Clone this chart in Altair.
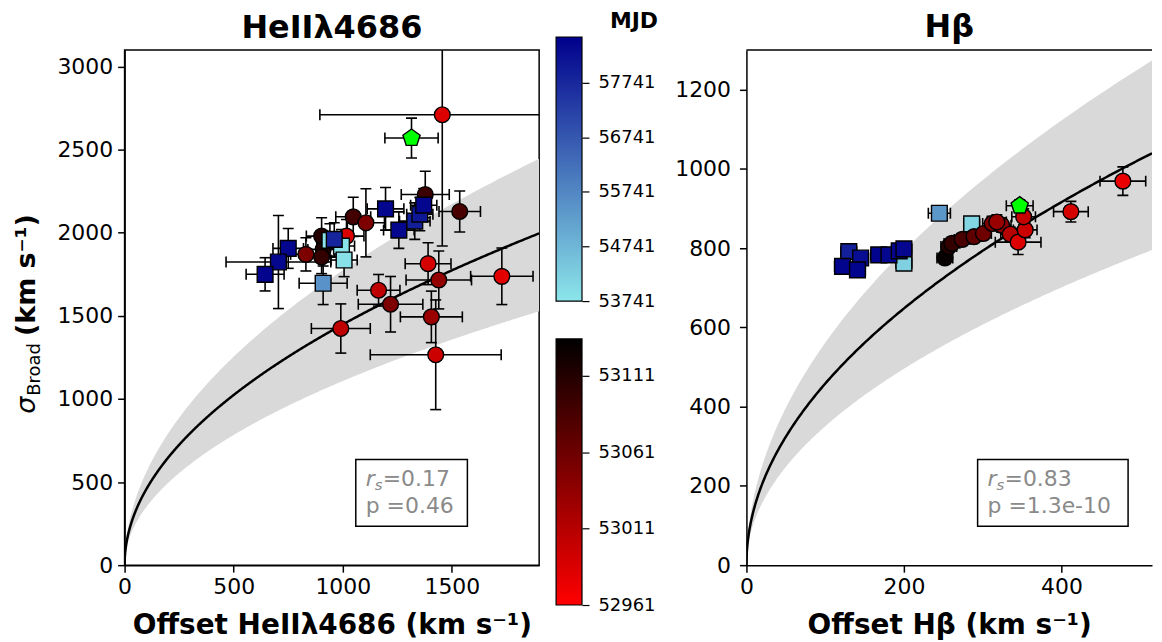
import altair as alt
import numpy as np
import pandas as pd

FONT = "DejaVu Sans"

# ---------------- HeII 4686 panel data ----------------
HE_C_X    = [1456, 1536, 1378, 1048, 1106, 1017, 903, 910, 903, 831, 1391, 1440, 1729, 1164, 1219, 1406, 991, 1426]
HE_C_Y    = [2710, 2128, 2230, 2096, 2060, 1980, 1980, 1900, 1854, 1870, 1814, 1716, 1738, 1654, 1570, 1494, 1424, 1266]
HE_C_XERR = [561, 95, 110, 80, 85, 80, 70, 70, 70, 70, 105, 150, 143, 98, 148, 142, 135, 300]
HE_C_YERR = [790, 123, 140, 118, 205, 100, 110, 100, 100, 100, 126, 174, 170, 95, 167, 155, 148, 330]
HE_C_MJD  = [52985, 53085, 53095, 53090, 53050, 52985, 53110, 53115, 53100, 53050, 52990, 53035, 52980, 53005, 53050, 53030, 53005, 52995]

HE_S_X    = [1196, 1257, 1330, 1353, 1371, 941, 994, 1006, 961, 750, 705, 644, 910]
HE_S_Y    = [2144, 2016, 2070, 2112, 2166, 1954, 1920, 1836, 1960, 1906, 1824, 1750, 1696]
HE_S_XERR = [84, 70, 70, 60, 60, 60, 60, 60, 60, 70, 240, 87, 110]
HE_S_YERR = [128, 110, 110, 100, 100, 100, 100, 100, 100, 120, 280, 100, 128]
HE_S_MJD  = [58450, 58450, 57900, 58100, 58450, 53800, 53800, 53850, 57800, 58450, 58400, 58500, 55500]

HE_P_X, HE_P_Y, HE_P_XERR, HE_P_YERR = [1315], [2570], [122], [120]

HE_XTICKS = [0, 500, 1000, 1500]
HE_YTICKS = [0, 500, 1000, 1500, 2000, 2500, 3000]
HE_XMAX, HE_YMAX = 1900, 3100
HE_STATS = ["=0.17", "p =0.46"]

# ---------------- H beta panel data ----------------
HB_C_X    = [252, 257, 261, 274, 289, 301, 312, 324, 318, 335, 345, 354, 352, 412, 478]
HB_C_Y    = [775, 804, 812, 822, 829, 837, 862, 858, 866, 835, 815, 846, 879, 892, 969]
HB_C_XERR = [10, 10, 10, 10, 10, 10, 12, 12, 12, 12, 29, 15, 15, 22, 29]
HB_C_YERR = [15, 15, 15, 15, 15, 15, 18, 18, 18, 18, 31, 20, 20, 26, 36]
HB_C_MJD  = [53130, 53110, 53100, 53085, 53070, 53060, 53050, 53040, 53030, 53010, 52985, 52995, 53000, 52990, 52975]

HB_S_X    = [200, 245, 286, 130, 145, 122, 141, 168, 181, 194, 200]
HB_S_Y    = [762, 888, 861, 791, 775, 754, 745, 783, 783, 793, 798]
HB_S_XERR = [10, 14, 10, 10, 10, 10, 10, 10, 10, 10, 10]
HB_S_YERR = [15, 15, 15, 15, 15, 15, 15, 15, 15, 15, 15]
HB_S_MJD  = [54200, 55400, 54100, 57900, 58300, 58500, 58500, 58500, 58400, 58450, 58400]

HB_P_X, HB_P_Y, HB_P_XERR, HB_P_YERR = [347], [907], [17], [15]

HB_XTICKS = [0, 200, 400]
HB_YTICKS = [0, 200, 400, 600, 800, 1000, 1200]
HB_XMAX, HB_YMAX = 515, 1300
HB_STATS = ["=0.83", "p =1.3e-10"]

# ---------------- colour bars ----------------
BLUE_TICKS = [53741, 54741, 55741, 56741, 57741]
BLUE_RANGE = [53741, 58577]
RED_TICKS = [52961, 53011, 53061, 53111]
RED_RANGE = [52961, 53135]
BLUE_COLORS = ["#8ce6ea", "#00008c"]
RED_COLORS = ["#ff0000", "#000000"]

# model sigma = K * sqrt(offset), shaded band
MODEL_K = 45.8
BAND = [0.765, 1.225]

PENT_PATH = "M0,-1L0.951,-0.309L0.588,0.809L-0.588,0.809L-0.951,-0.309Z"
H = 517
ONE = pd.DataFrame({"a": [0]})


def model_df(xmax):
    xs = np.linspace(0, 1, 400) ** 2 * xmax
    mid = MODEL_K * np.sqrt(xs)
    return pd.DataFrame({"x": xs, "mid": mid, "lo": mid * BAND[0], "hi": mid * BAND[1]})


def txt(text, x, y, size=22, style="normal", weight="normal", color="#8a8a8a", angle=0):
    return alt.Chart(ONE).mark_text(text=text, font=FONT, fontSize=size, fontStyle=style,
                                    fontWeight=weight, color=color, align="left",
                                    baseline="alphabetic", angle=angle).encode(
        x=alt.value(x), y=alt.value(y))


def panel(title, xtitle, xmax, ymax, xticks, yticks, width, circ, sq, pent, stats,
          squares_on_top, full_box, ytitle, ylabpad):
    xs = alt.Scale(domain=[0, xmax], nice=False, zero=False)
    ys = alt.Scale(domain=[0, ymax], nice=False, zero=False)
    xax = alt.Axis(values=xticks, title=xtitle, labelFlush=False, format="d", grid=False)
    yax = alt.Axis(values=yticks, title=None, format="d", grid=False, labelPadding=ylabpad)

    def X(f):
        return alt.X(field=f, type="quantitative", scale=xs, axis=xax)

    def Y(f):
        return alt.Y(field=f, type="quantitative", scale=ys, axis=yax)

    mdf = model_df(xmax)
    band = alt.Chart(mdf).mark_area(color="#d9d9d9", clip=True).encode(x=X("x"), y=Y("hi"), y2="lo")
    line = alt.Chart(mdf).mark_line(color="black", strokeWidth=2.5, clip=True).encode(x=X("x"), y=Y("mid"))

    def errs(df):
        b = alt.Chart(df).transform_calculate(
            xlo="datum.x - datum.xerr", xhi="datum.x + datum.xerr",
            ylo="datum.y - datum.yerr", yhi="datum.y + datum.yerr")
        rk = dict(color="black", strokeWidth=1.6, clip=True)
        tk = dict(color="black", thickness=1.6, size=11, clip=True, opacity=1)
        return [
            b.mark_rule(**rk).encode(x=X("xlo"), x2="xhi", y=Y("y")),
            b.mark_rule(**rk).encode(x=X("x"), y=Y("ylo"), y2="yhi"),
            b.mark_tick(orient="vertical", **tk).encode(x=X("xlo"), y=Y("y")),
            b.mark_tick(orient="vertical", **tk).encode(x=X("xhi"), y=Y("y")),
            b.mark_tick(orient="horizontal", **tk).encode(x=X("x"), y=Y("ylo")),
            b.mark_tick(orient="horizontal", **tk).encode(x=X("x"), y=Y("yhi")),
        ]

    cdf = pd.DataFrame({"x": circ[0], "y": circ[1], "xerr": circ[2], "yerr": circ[3], "mjd": circ[4]})
    sdf = pd.DataFrame({"x": sq[0], "y": sq[1], "xerr": sq[2], "yerr": sq[3], "mjd": sq[4]})
    pdf = pd.DataFrame({"x": pent[0], "y": pent[1], "xerr": pent[2], "yerr": pent[3]})

    pk = dict(filled=True, size=250, stroke="black", strokeWidth=1.4, opacity=1, clip=True)
    circles = alt.Chart(cdf).mark_point(shape="circle", **pk).encode(
        x=X("x"), y=Y("y"),
        fill=alt.Fill(field="mjd", type="quantitative",
                      scale=alt.Scale(domain=RED_RANGE, range=RED_COLORS, interpolate="rgb"), legend=None))
    squares = alt.Chart(sdf).mark_point(shape="square", **pk).encode(
        x=X("x"), y=Y("y"),
        fill=alt.Fill(field="mjd", type="quantitative",
                      scale=alt.Scale(domain=BLUE_RANGE, range=BLUE_COLORS, interpolate="rgb"), legend=None))
    pentagon = alt.Chart(pdf).mark_point(shape=PENT_PATH, filled=True, fill="#00ff00", size=330,
                                         stroke="black", strokeWidth=1.4, opacity=1, clip=True).encode(
        x=X("x"), y=Y("y"))

    layers = [band, line]
    layers += errs(cdf) + errs(sdf) + errs(pdf)
    layers += [circles, squares] if squares_on_top else [squares, circles]
    layers.append(pentagon)

    # statistics box
    bx0, by0, bw, bh = 232, 411, stats[2], 67
    layers.append(alt.Chart(ONE).mark_rect(fill="white", stroke="black", strokeWidth=1.5).encode(
        x=alt.value(bx0), x2=alt.value(bx0 + bw), y=alt.value(by0), y2=alt.value(by0 + bh)))
    layers.append(txt("r", bx0 + 10, by0 + 27, style="italic"))
    layers.append(txt("s", bx0 + 19, by0 + 31, size=15, style="italic"))
    layers.append(txt(stats[0], bx0 + 27, by0 + 27))
    layers.append(txt(stats[1], bx0 + 10, by0 + 54))

    if not full_box:
        layers.append(alt.Chart(ONE).mark_rule(color="black", strokeWidth=1.5).encode(
            x=alt.value(0), x2=alt.value(width), y=alt.value(0)))

    if ytitle:
        layers.append(txt("σ", -90, 365, size=27, style="italic", color="black", angle=270))
        layers.append(txt("Broad", -85, 347, size=18, color="black", angle=270))
        layers.append(txt("(km s⁻¹)", -90, 287, size=27, weight="bold", color="black", angle=270))

    props = dict(width=width, height=H,
                 title=alt.TitleParams(title, frame="group", anchor="middle", fontSize=32,
                                       fontWeight="bold", font=FONT, offset=5))
    if not full_box:
        props["view"] = alt.ViewBackground(stroke="transparent")
    return alt.layer(*layers).resolve_scale(fill="independent").properties(**props)


def cbar(rng, colors, ticks, h, rng_px, title=None):
    df = pd.DataFrame({"lo": [rng[0]], "hi": [rng[1]]})
    grad = alt.LinearGradient(gradient="linear",
                              stops=[alt.GradientStop(color=colors[0], offset=0),
                                     alt.GradientStop(color=colors[1], offset=1)],
                              x1=0, x2=0, y1=1, y2=0)
    ch = alt.Chart(df).mark_rect(fill=grad, stroke="black", strokeWidth=1.2).encode(
        x=alt.value(0), x2=alt.value(26),
        y=alt.Y("lo:Q", scale=alt.Scale(domain=rng, range=rng_px, nice=False, zero=False),
                axis=alt.Axis(orient="right", values=ticks, format="d", title=None, domain=False,
                              tickSize=7, tickWidth=1.2, grid=False, labelFontSize=18,
                              labelPadding=9)),
        y2="hi:Q")
    props = dict(width=26, height=h, view=alt.ViewBackground(stroke="transparent"))
    if title:
        props["title"] = alt.TitleParams(title, frame="group", anchor="start", dx=54, fontSize=22,
                                         fontWeight="bold", font=FONT, offset=3)
    return ch.properties(**props)


left = panel("HeIIλ4686", "Offset HeIIλ4686 (km s⁻¹)", HE_XMAX, HE_YMAX, HE_XTICKS, HE_YTICKS, 416,
             (HE_C_X, HE_C_Y, HE_C_XERR, HE_C_YERR, HE_C_MJD),
             (HE_S_X, HE_S_Y, HE_S_XERR, HE_S_YERR, HE_S_MJD),
             (HE_P_X, HE_P_Y, HE_P_XERR, HE_P_YERR),
             (HE_STATS[0], HE_STATS[1], 112), True, True, True, 5)

right = panel("Hβ", "Offset Hβ (km s⁻¹)", HB_XMAX, HB_YMAX, HB_XTICKS, HB_YTICKS, 407,
              (HB_C_X, HB_C_Y, HB_C_XERR, HB_C_YERR, HB_C_MJD),
              (HB_S_X, HB_S_Y, HB_S_XERR, HB_S_YERR, HB_S_MJD),
              (HB_P_X, HB_P_Y, HB_P_XERR, HB_P_YERR),
              (HB_STATS[0], HB_STATS[1], 151), False, False, False, 9)

bars = alt.vconcat(cbar(BLUE_RANGE, BLUE_COLORS, BLUE_TICKS, 252, [252, -13], "MJD"),
                   cbar(RED_RANGE, RED_COLORS, RED_TICKS, 267, [267, 0]), spacing=22)

chart = alt.hconcat(left, bars, right, spacing=14).properties(
    padding={"left": 4, "top": 0, "right": 0, "bottom": 0}
).configure_axis(
    labelFont=FONT, labelFontSize=22, labelColor="black",
    titleFont=FONT, titleFontSize=28, titleFontWeight="bold", titleColor="black",
    tickColor="black", tickWidth=1.5, tickSize=7, domainColor="black", domainWidth=1.5,
    labelPadding=4, titlePadding=15
).configure_view(stroke="black", strokeWidth=1.5).configure_title(font=FONT, color="black")

chart.save("out.html", embed_options={"renderer": "svg", "actions": False})
